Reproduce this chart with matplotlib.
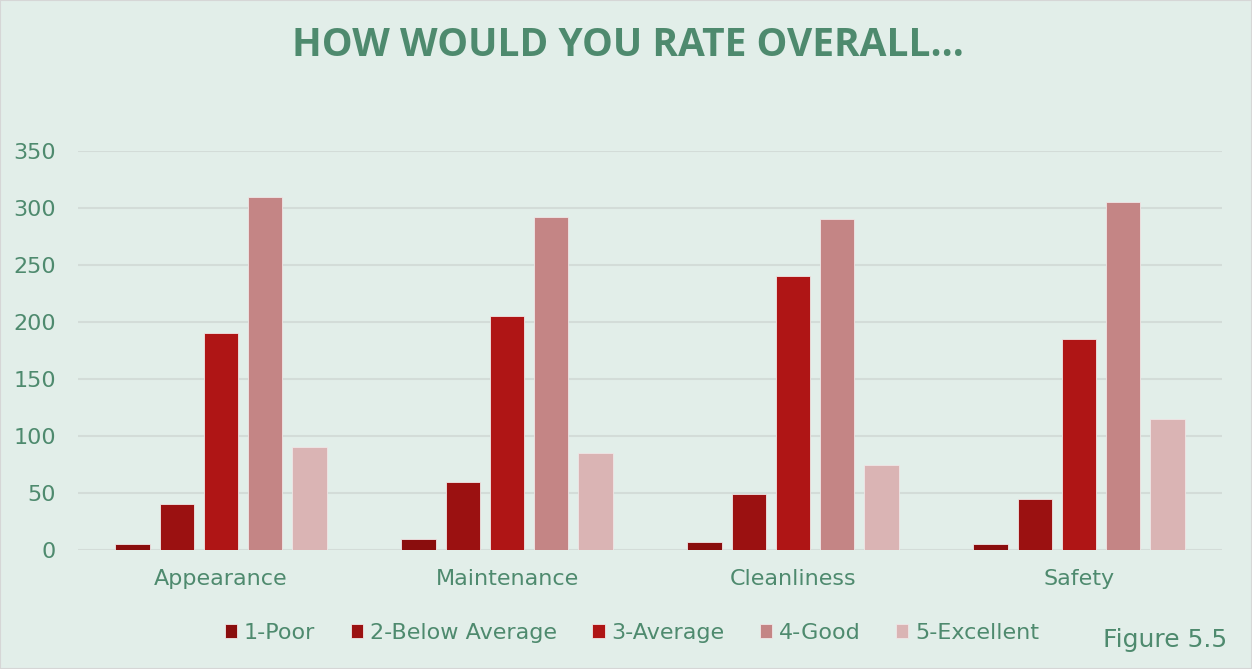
import matplotlib
matplotlib.use("Agg")
import matplotlib.pyplot as plt
import numpy as np

categories = ["Appearance", "Maintenance", "Cleanliness", "Safety"]
series_names = ["1-Poor", "2-Below Average", "3-Average", "4-Good", "5-Excellent"]
poor = [5, 10, 7, 5]
below_avg = [40, 60, 49, 45]
average = [190, 205, 240, 185]
good = [310, 292, 290, 305]
excellent = [90, 85, 75, 115]
yticks = [0, 50, 100, 150, 200, 250, 300, 350]

series = [poor, below_avg, average, good, excellent]
colors = ["#8A0D0D", "#9B1111", "#AF1515", "#C48585", "#DAB4B4"]
bg = "#E2EEE9"
txt = "#4E8A6E"

plt.rcParams['font.family'] = ['DejaVu Sans']

fig = plt.figure(figsize=(12.52, 6.69), dpi=100, facecolor=bg)
ax = fig.add_axes([78/1252, 1 - 550/669, 1144/1252, 399/669])
ax.set_facecolor(bg)

x = np.arange(len(categories))
step = 0.154
width = 0.122
for i, (vals, name, c) in enumerate(zip(series, series_names, colors)):
    ax.bar(x + (i - 2) * step, vals, width, color=c, label=name,
           edgecolor="#F0E6E6", linewidth=0.6, zorder=3)

ax.set_xlim(-0.5, len(categories) - 0.5)
ax.set_ylim(0, 350)
ax.set_yticks(yticks)
ax.set_yticklabels([str(v) for v in yticks])
ax.set_xticks(x)
ax.set_xticklabels(categories)
ax.grid(axis="y", color="#D3DCD8", linewidth=1.5, zorder=0)
for s in ax.spines.values():
    s.set_visible(False)
ax.tick_params(axis="both", length=0, colors=txt, labelsize=16)
ax.tick_params(axis="y", pad=16)
ax.tick_params(axis="x", pad=14)

fig.text(628/1252, 1 - 46/669, "HOW WOULD YOU RATE OVERALL...", ha="center", va="center",
         fontsize=28, fontweight="bold", color=txt, family=['Open Sans', 'DejaVu Sans'])

leg = fig.legend(loc="center", bbox_to_anchor=(632/1252, 1 - 633/669), ncol=5, frameon=False,
                 fontsize=16, labelcolor=txt, handlelength=0.55, handleheight=0.55,
                 handletextpad=0.3, columnspacing=1.6)

fig.text(1165/1252, 1 - 640/669, "Figure 5.5", ha="center", va="center", fontsize=18, color=txt)

border = plt.Rectangle((0, 0), 1, 1, transform=fig.transFigure, fill=False,
                       edgecolor="#D6D6D6", linewidth=1.5)
fig.patches.append(border)

fig.savefig("out.png", dpi=100, facecolor=bg)
